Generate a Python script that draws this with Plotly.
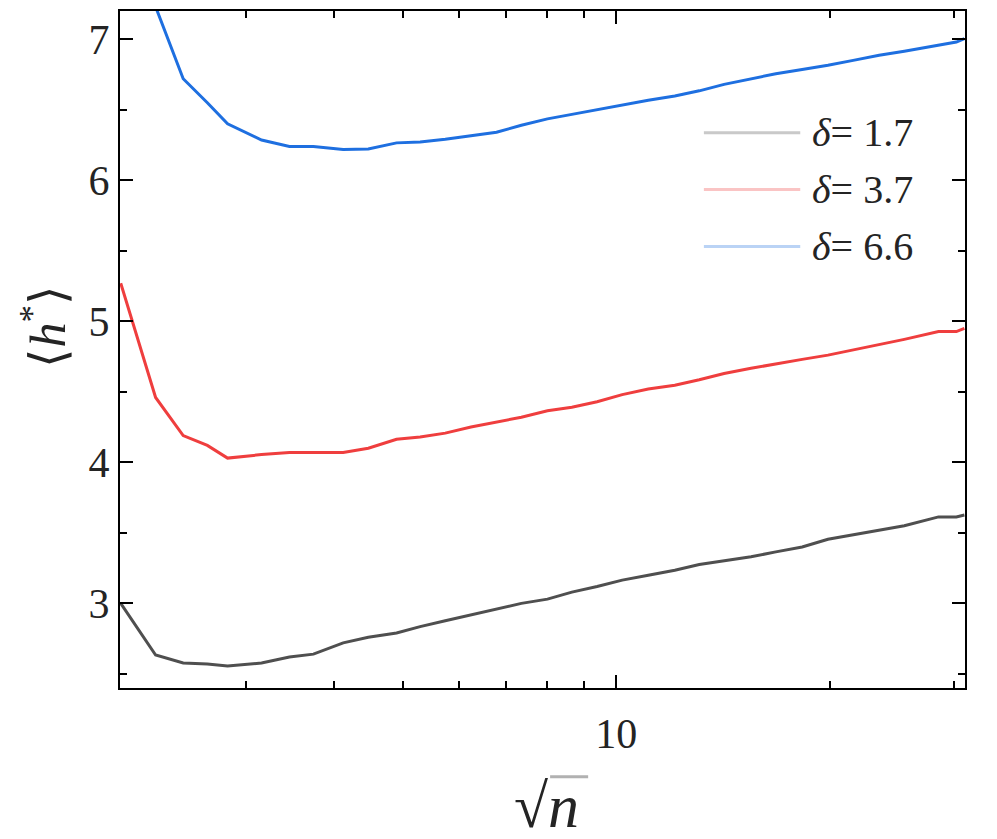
import plotly.graph_objects as go

# sqrt(n) sample positions
sqrt_n = [2.0, 2.24, 2.45, 2.65, 2.83, 3.0, 3.16, 3.46, 3.74, 4.12, 4.47, 4.9,
          5.29, 5.74, 6.24, 6.78, 7.35, 8.0, 8.66, 9.4, 10.2, 11.1, 12.1, 13.1,
          14.2, 15.5, 16.8, 18.3, 19.9, 21.6, 23.5, 25.5, 28.5, 30.2, 31.0]

h_17 = [3.00, 2.634, 2.577, 2.57, 2.556, 2.565, 2.577, 2.62, 2.64, 2.72, 2.76, 2.79,
        2.835, 2.877, 2.92, 2.963, 3.0, 3.03, 3.08, 3.12, 3.165, 3.20, 3.235, 3.275,
        3.30, 3.33, 3.365, 3.40, 3.455, 3.485, 3.52, 3.55, 3.613, 3.613, 3.627]

h_37 = [5.27, 4.46, 4.19, 4.12, 4.03, 4.045, 4.055, 4.07, 4.07, 4.07, 4.10, 4.164,
        4.18, 4.207, 4.25, 4.288, 4.32, 4.366, 4.39, 4.43, 4.48, 4.52, 4.547, 4.586,
        4.63, 4.667, 4.70, 4.73, 4.76, 4.796, 4.835, 4.872, 4.927, 4.927, 4.95]

h_66 = [8.6, 7.23, 6.72, 6.55, 6.40, 6.34, 6.285, 6.24, 6.24, 6.218, 6.222, 6.265,
        6.272, 6.29, 6.316, 6.34, 6.39, 6.435, 6.467, 6.50, 6.535, 6.567, 6.597, 6.634,
        6.68, 6.72, 6.755, 6.785, 6.815, 6.85, 6.886, 6.915, 6.958, 6.98, 7.005]

deltas = ["1.7", "3.7", "6.6"]
colors = ["#4f4f4f", "#ef3e3e", "#1e6fe0"]

FONT = "Liberation Serif"

fig = go.Figure()
for d, ys, c in zip(deltas, [h_17, h_37, h_66], colors):
    fig.add_trace(go.Scatter(
        x=sqrt_n, y=ys, mode="lines", name=f"δ = {d}",
        line=dict(color=c, width=3), showlegend=False
    ))

# legend drawn by hand so the line samples are long like the original
for i, (d, c) in enumerate(zip(deltas, colors)):
    yp = 0.8203 - i * 0.084
    fig.add_shape(type="line", xref="paper", yref="paper",
                  x0=0.691, x1=0.805, y0=yp, y1=yp,
                  line=dict(color=c, width=3))
    fig.add_annotation(xref="paper", yref="paper", x=0.816, y=yp,
                       xanchor="left", yanchor="middle", showarrow=False,
                       text=f"<i>δ</i>= {d}", font=dict(family=FONT, size=40))

fig.update_xaxes(
    type="log", range=[0.3, 1.4922],
    tickmode="array", tickvals=[10], ticktext=["10"],
    ticks="inside", ticklen=13, tickwidth=2, tickcolor="black",
    minor=dict(tickmode="array", tickvals=[3, 4, 5, 6, 7, 8, 9, 20, 30],
               ticks="inside", ticklen=7, tickwidth=2, tickcolor="black"),
    showline=True, linewidth=2, linecolor="black", mirror="ticks",
    showgrid=False, zeroline=False, ticklabelstandoff=8,
    tickfont=dict(family=FONT, size=42),
)
fig.update_yaxes(
    range=[2.4, 7.2],
    tickmode="array", tickvals=[3, 4, 5, 6, 7],
    ticks="inside", ticklen=13, tickwidth=2, tickcolor="black",
    minor=dict(tickmode="array", tickvals=[2.5, 3.5, 4.5, 5.5, 6.5],
               ticks="inside", ticklen=7, tickwidth=2, tickcolor="black"),
    showline=True, linewidth=2, linecolor="black", mirror="ticks",
    showgrid=False, zeroline=False,
    tickfont=dict(family=FONT, size=42),
)

# axis titles
fig.add_annotation(xref="paper", yref="paper", x=-0.089, y=0.535,
                   text="⟨<i>h</i><sup>*</sup>⟩", textangle=-90, showarrow=False,
                   xanchor="center", yanchor="middle",
                   font=dict(family=FONT, size=50))
fig.add_annotation(xref="paper", yref="paper", x=0.505, y=-0.175,
                   text="√<i>n</i>", showarrow=False,
                   xanchor="center", yanchor="middle",
                   font=dict(family=FONT, size=62))
fig.add_shape(type="line", xref="paper", yref="paper",
              x0=0.509, x1=0.554, y0=-0.131, y1=-0.131,
              line=dict(color="black", width=3))

# page body adds an 8px offset, so the figure is sized to fit the window
fig.update_layout(
    template="simple_white",
    width=989, height=831,
    margin=dict(l=112, r=32, t=1, b=151),
    plot_bgcolor="white", paper_bgcolor="white",
    showlegend=False,
)

fig.write_html("out.html")
